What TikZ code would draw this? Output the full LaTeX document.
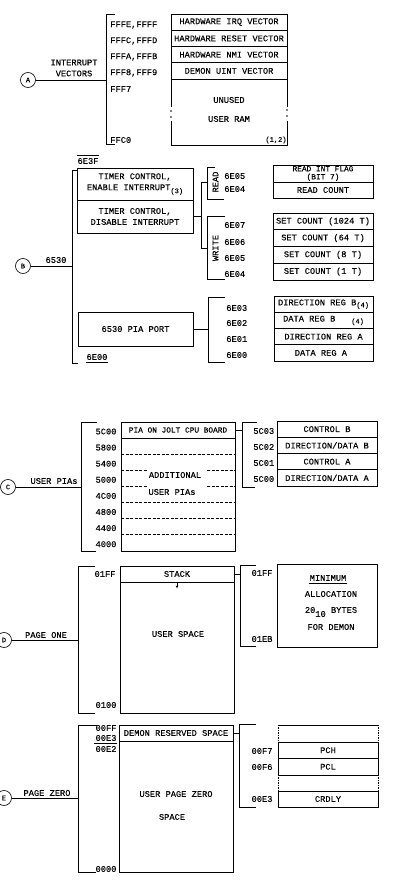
\documentclass[tikz,border=0pt]{standalone}
\usepackage{fontspec}
\setmainfont{Liberation Mono}[FakeBold=0.2]
\usetikzlibrary{arrows.meta}
\newcommand\regfont{\fontsize{8.7}{11}\selectfont}
\newcommand\notefont{\fontsize{7}{8}\selectfont}
\begin{document}
\begin{tikzpicture}[
      x = 1pt, y = -1pt, % one unit per pixel of the scan, y going down
      line width = 0.65pt, % line style
      every node/.style = {font=\regfont, inner sep=0pt},
      cell/.style = {draw, minimum height=16pt, align=center},
      tag/.style = {draw, circle, minimum size=15pt, font=\notefont},
      addr/.style = {anchor=west},
      gap/.style = {dash pattern=on 3pt off 1.5pt}
  ]

\useasboundingbox (0,0) rectangle (413,894);

% A
\node[tag] (tagA) at (28,80) {A};
\node[align=center] (grpA) at (74,68) {INTERRUPT\\VECTORS};
\coordinate (brA) at (106,80);
\draw (tagA) -- (brA);
\draw (115,14) -- (106,14) -- (106,144) -- (115,144);

\foreach \y/\txt [count=\i] in {
    25/{FFFE,FFFF},
    41/{FFFC,FFFD},
    57/{FFFA,FFFB},
    73/{FFF8,FFF9},
    89/FFF7,
    140/FFC0
}{
    \node[addr] (adA\i) at (110,\y) {\txt};
}

\foreach \txt [count=\i] in {HARDWARE IRQ VECTOR, HARDWARE RESET VECTOR,
    HARDWARE NMI VECTOR, DEMON UINT VECTOR}{
    \node[cell, minimum width=116pt, minimum height=16.25pt] (rowA\i) at (229,{14+16.25*\i-8.125}) {\txt};
}
\node (unusedA) at (229,100) {UNUSED};
\node (ramA) at (229,119) {USER RAM};
\draw (171,79) -- (171,107) (171,121) -- (171,145) -- (287,145) -- (287,121) (287,107) -- (287,79);
\fill (171,111) circle (0.8pt) (171,117) circle (0.8pt) (287,110) circle (0.8pt) (287,116) circle (0.8pt);
\node[font=\notefont] (noteA) at (276,140) {(1,2)};

% B
\node (topB) at (88,161) {6E3F};
\draw ([yshift=2.5pt]topB.north west) -- ([yshift=2.5pt]topB.north east);
\node[tag] (tagB) at (23,266) {B};
\coordinate (brB) at (72,266);
\draw (tagB) -- (brB);
\node (chipB) at (56,260) {6530};
\draw (78,170) -- (72,170) -- (72,363) -- (78,363);

\node[cell, minimum width=116pt, minimum height=32pt] (ctlB1) at (135,184)
    {TIMER CONTROL,\\ENABLE INTERRUPT\raisebox{-3pt}{\notefont(3)}};
\node[cell, minimum width=116pt, minimum height=33pt] (ctlB2) at (135,216.5)
    {TIMER CONTROL,\\DISABLE INTERRUPT};
\coordinate (jB) at (201,216.5);
\draw (ctlB2) -- (jB);
\draw (207,182) -- (201,182) -- (201,248) -- (207,248);
\draw (215,167) -- (207,167) -- (207,199) -- (224,199);
\draw (225,216) -- (207,216) -- (207,279) -- (225,279);
\node[rotate=90] (rdB) at (215.5,182) {READ};
\node[rotate=90] (wrB) at (215.5,248) {WRITE};

\foreach \y/\txt [count=\i] in {176/6E05, 189/6E04, 225/6E07, 242/6E06, 258/6E05, 274/6E04}{
    \node[addr] (adB\i) at (224,\y) {\txt};
}

\node[cell, minimum width=100pt, minimum height=17pt, font=\fontsize{7.8}{7.5}\selectfont] (rdB1) at (323,173.5)
    {READ INT FLAG\\[0.5pt](BIT 7)};
\node[cell, minimum width=100pt, minimum height=16pt] (rdB2) at (323,190) {READ COUNT};
\foreach \txt [count=\i] in {SET COUNT (1024 T), SET COUNT (64 T), SET COUNT (8 T), SET COUNT (1 T)}{
    \node[cell, minimum width=100pt, minimum height=16.75pt] (wrB\i) at (323,{213+16.75*\i-8.375}) {\txt};
}

\node[cell, minimum width=115pt, minimum height=34pt] (piaB) at (135.5,329) {6530 PIA PORT};
\coordinate (jB2) at (208,329);
\draw (piaB) -- (jB2);
\draw (225,297) -- (208,297) -- (208,362) -- (225,362);
\foreach \y/\txt [count=\i] in {308/6E03, 323/6E02, 339/6E01, 355/6E00}{
    \node[addr] (pdB\i) at (226,\y) {\txt};
}
\foreach \txt [count=\i] in {
    {DIRECTION REG B\raisebox{-2pt}{\notefont(4)}},
    {DATA REG B\hspace{16pt}\raisebox{-2pt}{\notefont(4)}},
    DIRECTION REG A,
    DATA REG A
}{
    \node[cell, minimum width=99pt, minimum height=16.25pt] (regB\i) at (323.5,{296+16.25*\i-8.125}) {\txt};
}
\node (botB) at (97,357) {6E00};
\draw ([yshift=-2pt]botB.south west) -- ([yshift=-2pt]botB.south east);

% C
\node[tag] (tagC) at (8,487) {C};
\coordinate (brC) at (81,487);
\draw (tagC) -- (brC);
\node (grpC) at (54,481) {USER PIAs};
\draw (97,422) -- (81,422) -- (81,551) -- (96,551);
\foreach \txt [count=\i] in {5C00, 5800, 5400, 5000, 4C00, 4800, 4400, 4000}{
    \node (adC\i) at (106,{431.5+16.1*(\i-1)}) {\txt};
}
\node[cell, minimum width=114pt, minimum height=16.1pt, font=\fontsize{7.8}{9}\selectfont] (jolt) at (178,430)
    {PIA ON JOLT CPU BOARD};
\node[draw, minimum width=114pt, minimum height=112.9pt] (piasC) at (178,494.55) {};
\foreach \y in {454.2, 502.5, 518.6, 534.7}
    \draw[gap] (121,\y) -- (235,\y);
\draw[gap] (121,470.3) -- (147,470.3) (207,470.3) -- (235,470.3)
    (121,486.4) -- (147,486.4) (207,486.4) -- (235,486.4);
\node (addC1) at (175,475) {ADDITIONAL};
\node (addC2) at (172,492) {USER PIAs};

\coordinate (jC) at (242,430);
\draw (jolt) -- (jC);
\draw (257,422) -- (242,422) -- (242,487) -- (255,487);
\foreach \txt [count=\i] in {5C03, 5C02, 5C01, 5C00}{
    \node[addr] (pdC\i) at (253,{431+16*(\i-1)}) {\txt};
}
\foreach \txt [count=\i] in {CONTROL B, DIRECTION/DATA B, CONTROL A, DIRECTION/DATA A}{
    \node[cell, minimum width=100pt, minimum height=16.25pt] (regC\i) at (327,{421+16.25*\i-8.125}) {\txt};
}

% D
\node[tag] (tagD) at (4,640) {D};
\coordinate (brD) at (78,640);
\draw (tagD) -- (brD);
\node (grpD) at (46,635) {PAGE ONE};
\draw (95,566) -- (78,566) -- (78,713) -- (95,713);
\node (adD1) at (105,574) {01FF};
\node (adD2) at (106,705) {0100};
\node[cell, minimum width=114pt, minimum height=16pt] (stackD) at (177,574) {STACK};
\node[draw, minimum width=114pt, minimum height=131pt] (userD) at (177,647.5) {};
\node (userDt) at (178,634) {USER SPACE};
\draw[-{Stealth[length=3pt, width=2.5pt]}] (stackD.south) -- ++(0,6);

\coordinate (jD) at (240,574);
\draw (stackD) -- (jD);
\draw (256,565) -- (240,565) -- (240,646) -- (256,646);
\node (pdD1) at (262,573) {01FF};
\node (pdD2) at (262,639) {01EB};
\node[draw, minimum width=100pt, minimum height=83pt] (demD) at (327,605.5) {};
\node (minD) at (328,578) {MINIMUM};
\draw ([yshift=-2pt]minD.south west) -- ([yshift=-2pt]minD.south east);
\node (allocD) at (331,594) {ALLOCATION};
\node (bytesD) at (331,612) {20\raisebox{-4pt}{10} BYTES};
\node (forD) at (331,627) {FOR DEMON};

% E
\node[tag] (tagE) at (4,798) {E};
\coordinate (brE) at (78,798);
\draw (tagE) -- (brE);
\node (grpE) at (47,793) {PAGE ZERO};
\draw (97,725) -- (78,725) -- (78,872) -- (96,872);
\node (adE1) at (106,728) {00FF};
\node (adE2) at (106,738) {00E3};
\draw (94,743) -- (117,743);
\node (adE3) at (106,749) {00E2};
\node (adE4) at (106,869) {0000};
\node[cell, minimum width=114pt, minimum height=16pt] (dmnE) at (176,733) {DEMON RESERVED SPACE};
\node[draw, minimum width=114pt, minimum height=131pt] (userE) at (176,806.5) {};
\node (userEt) at (176,794) {USER PAGE ZERO};
\node (spcE) at (172,817) {SPACE};

\coordinate (jE) at (239,733);
\draw (dmnE) -- (jE);
\draw (256,724) -- (239,724) -- (239,807) -- (256,807);
\node (pdE1) at (262,751) {00F7};
\node (pdE2) at (262,767) {00F6};
\node (pdE3) at (262,799) {00E3};
\draw (278,725) -- (378,725);
\draw[densely dotted] (278,725) -- (278,742) (378,725) -- (378,742);
\node[cell, minimum width=100pt, minimum height=16.5pt] (pchE) at (328,750.25) {PCH};
\node[cell, minimum width=100pt, minimum height=16.5pt] (pclE) at (328,766.75) {PCL};
\draw[densely dotted] (278,775) -- (278,791) (378,775) -- (378,791);
\node[cell, minimum width=100pt, minimum height=16pt] (crdE) at (328,799) {CRDLY};

\end{tikzpicture}
\end{document}
